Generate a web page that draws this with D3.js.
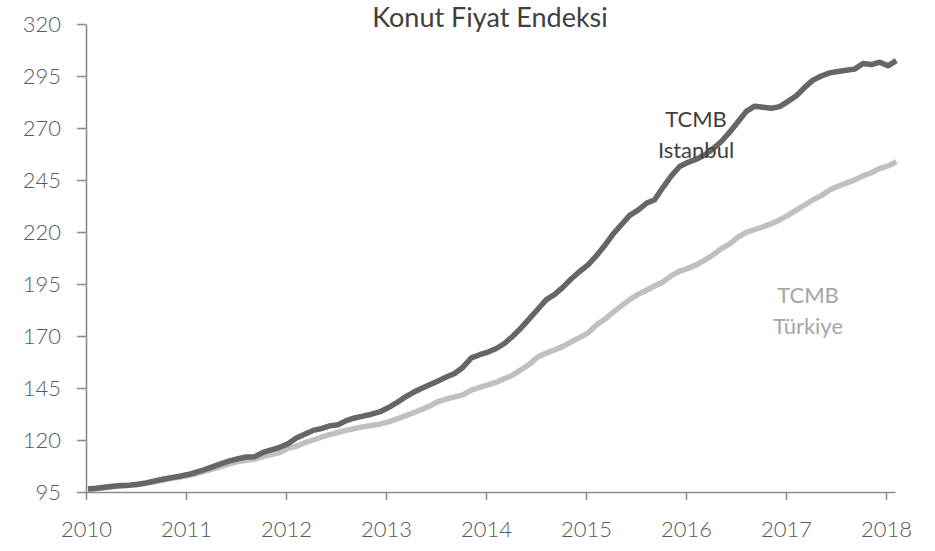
<!DOCTYPE html>
<html>
<head>
<meta charset="utf-8">
<script src="https://cdn.jsdelivr.net/npm/d3@7"></script>
<style>
  html, body { margin: 0; padding: 0; background: #ffffff; }
  svg { display: block; font-family: Lato, "Open Sans", sans-serif; }
</style>
</head>
<body>
<svg id="chart" width="935" height="551"></svg>
<script>
// ---- data (monthly, Jan 2010 – Feb 2018) ----
const startYear = 2010;
const istanbul = [
  96.4, 96.8, 97.3, 97.8, 98.1, 98.3, 98.7, 99.4, 100.3, 101.1, 101.9, 102.6,
  103.4, 104.5, 105.8, 107.2, 108.6, 110.0, 111.0, 111.8, 112.0, 114.0, 115.3, 116.5,
  118.2, 121.0, 122.8, 124.6, 125.5, 126.8, 127.3, 129.3, 130.6, 131.5, 132.4, 133.5,
  135.5, 137.8, 140.5, 142.8, 144.8, 146.6, 148.4, 150.3, 152.0, 155.0, 159.5, 161.0,
  162.3, 164.0, 166.5, 170.0, 174.0, 178.5, 183.0, 187.5, 190.0, 193.5, 197.5, 201.0,
  204.2, 208.5, 213.5, 219.0, 223.5, 228.0, 230.5, 233.8, 235.5, 241.5, 247.0, 251.5,
  253.5, 255.0, 257.0, 260.0, 263.5, 268.0, 273.0, 278.0, 280.5, 280.0, 279.5, 280.3,
  282.8, 285.5, 289.5, 293.0, 295.0, 296.5, 297.2, 297.8, 298.3, 301.0, 300.5, 301.6,
  299.9, 302.4
];
const turkiye = [
  96.3, 96.6, 97.0, 97.5, 97.9, 98.2, 98.6, 99.2, 100.0, 100.8, 101.5, 102.2,
  102.9, 103.8, 104.9, 106.1, 107.3, 108.6, 109.6, 110.3, 110.8, 112.0, 113.0, 114.0,
  116.0, 117.0, 118.6, 120.0, 121.4, 122.6, 123.6, 124.6, 125.6, 126.3, 127.0, 127.6,
  128.6, 130.0, 131.5, 133.0, 134.6, 136.3, 138.5, 139.7, 140.7, 141.7, 144.0, 145.3,
  146.5, 147.8, 149.5, 151.3, 153.8, 156.5, 160.0, 161.8, 163.3, 165.0, 167.2, 169.2,
  171.5, 175.3, 178.0, 181.3, 184.5, 187.5, 190.0, 192.0, 194.0, 196.0, 199.0, 201.2,
  202.5, 204.2, 206.5, 209.0, 212.0, 214.3, 217.5, 219.8, 221.2, 222.5, 224.0, 225.8,
  228.0, 230.5, 233.0, 235.5, 237.5, 240.2, 242.0, 243.5, 245.0, 247.0, 248.5, 250.5,
  251.8, 253.8
];
const yearTicks = [2010, 2011, 2012, 2013, 2014, 2015, 2016, 2017, 2018];
const valueTicks = [95, 120, 145, 170, 195, 220, 245, 270, 295, 320];
const title = "Konut Fiyat Endeksi";
const seriesLabels = [
  { lines: ["TCMB", "Istanbul"], color: "#404040", x: 2016.1, y: 270.5 },
  { lines: ["TCMB", "Türkiye"], color: "#a6a6a6", x: 2017.22, y: 186 }
];

// ---- layout ----
const svg = d3.select("#chart");
const x = d3.scaleLinear().domain([2010, 2018.09]).range([86, 895]);
const y = d3.scaleLinear().domain([95, 320]).range([492, 24]);
const axisColor = "#8c8c8c";
const textColor = "#595959";

const toPoints = arr => arr.map((v, i) => ({ t: startYear + (i + 0.24) / 12, v }));

// axes
const xAxis = d3.axisBottom(x).tickValues(yearTicks).tickFormat(d3.format("d"))
  .tickSizeInner(8).tickSizeOuter(0).tickPadding(21);
const yAxis = d3.axisLeft(y).tickValues(valueTicks)
  .tickSizeInner(9).tickSizeOuter(0).tickPadding(16);

const gx = svg.append("g").attr("transform", `translate(0,${y(95)})`).call(xAxis);
const gy = svg.append("g").attr("transform", `translate(${x(2010)},0)`).call(yAxis);
[gx, gy].forEach(g => {
  g.selectAll("path.domain, line").attr("stroke", axisColor).attr("stroke-width", 1.6);
  g.selectAll("text").attr("fill", textColor).attr("font-size", 22)
    .attr("font-family", "Lato, 'Open Sans', sans-serif").attr("font-weight", 300);
});

// lines
const line = d3.line().x(d => x(d.t)).y(d => y(d.v));
svg.append("path").datum(toPoints(turkiye))
  .attr("fill", "none").attr("stroke", "#c0c0c0").attr("stroke-width", 5.5)
  .attr("stroke-linejoin", "round").attr("d", line);
svg.append("path").datum(toPoints(istanbul))
  .attr("fill", "none").attr("stroke", "#666666").attr("stroke-width", 5.5)
  .attr("stroke-linejoin", "round").attr("d", line);

// title
svg.append("text").attr("x", 490).attr("y", 27).attr("text-anchor", "middle")
  .attr("font-size", 27).attr("fill", "#404040").attr("font-weight", 400)
  .text(title);

// series labels
seriesLabels.forEach(s => {
  const t = svg.append("text").attr("text-anchor", "middle")
    .attr("font-size", 22).attr("fill", s.color);
  s.lines.forEach((ln, i) => {
    t.append("tspan").attr("x", x(s.x)).attr("y", y(s.y) + i * 31).text(ln);
  });
});
</script>
</body>
</html>
